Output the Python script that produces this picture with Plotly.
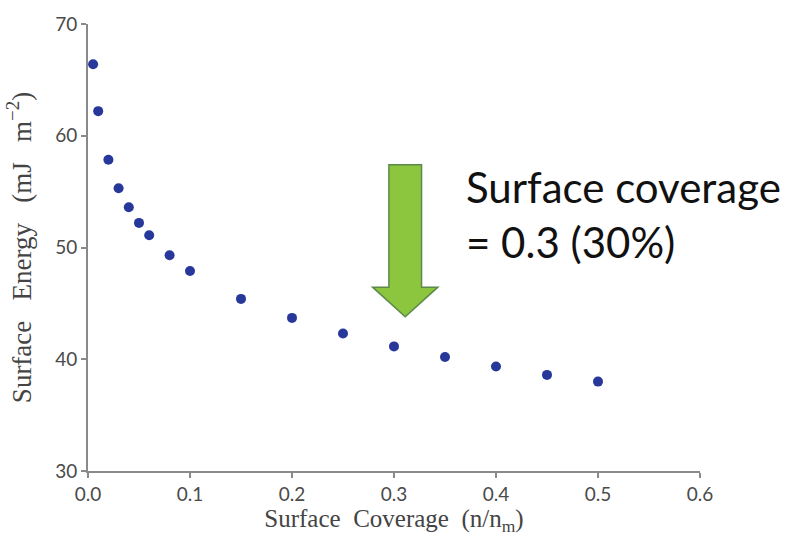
import plotly.graph_objects as go

# Surface energy vs. fractional surface coverage
coverage = [0.005, 0.01, 0.02, 0.03, 0.04, 0.05, 0.06, 0.08, 0.10,
            0.15, 0.20, 0.25, 0.30, 0.35, 0.40, 0.45, 0.50]
surface_energy = [66.4, 62.2, 57.85, 55.3, 53.6, 52.2, 51.1, 49.3, 47.9,
                  45.4, 43.7, 42.3, 41.15, 40.2, 39.35, 38.6, 38.0]

x_ticks = [0.0, 0.1, 0.2, 0.3, 0.4, 0.5, 0.6]
x_tick_text = ["0.0", "0.1", "0.2", "0.3", "0.4", "0.5", "0.6"]
y_ticks = [30, 40, 50, 60, 70]

highlight_x = 0.3
note_lines = ["Surface coverage", "= 0.3 (30%)"]

fig = go.Figure()
fig.add_trace(go.Scatter(
    x=coverage, y=surface_energy, mode="markers",
    marker=dict(color="#27389a", size=10, line=dict(width=0)),
    showlegend=False, hoverinfo="x+y",
))

# Block arrow pointing down at the highlighted coverage
cx = highlight_x + 0.011
half_shaft, half_head = 0.016, 0.032
y_top, y_neck, y_tip = 57.4, 46.45, 43.8
arrow_path = (
    f"M {cx-half_shaft},{y_top} L {cx+half_shaft},{y_top} "
    f"L {cx+half_shaft},{y_neck} L {cx+half_head},{y_neck} "
    f"L {cx},{y_tip} L {cx-half_head},{y_neck} "
    f"L {cx-half_shaft},{y_neck} Z"
)
fig.add_shape(type="path", path=arrow_path, xref="x", yref="y",
              fillcolor="#8cc63e", line=dict(color="#5b8a4a", width=1.5))

note_font = dict(family="Lato", size=42, color="#111111")
fig.add_annotation(
    x=0.369, y=55.4, xref="x", yref="y", xanchor="left", yanchor="middle",
    text=note_lines[0], showarrow=False, font=note_font,
)
fig.add_annotation(
    x=0.369, y=50.5, xref="x", yref="y", xanchor="left", yanchor="middle",
    text=note_lines[1], showarrow=False, font=note_font,
)

axis_common = dict(
    showgrid=False, zeroline=False, showline=True,
    linecolor="#8a8a8a", linewidth=2,
    ticks="outside", ticklen=5, tickwidth=2, tickcolor="#8a8a8a",
    tickfont=dict(family="Lato", size=19, color="#4a4a4a"),
    mirror=False,
)
fig.update_xaxes(
    range=[0, 0.6], tickvals=x_ticks, ticktext=x_tick_text,
    title=dict(text="Surface  Coverage  (n/n<sub>m</sub>)",
               font=dict(family="Liberation Serif", size=25, color="#444444"),
               standoff=4),
    **axis_common,
)
fig.update_yaxes(
    range=[30, 70], tickvals=y_ticks,
    title=dict(text="Surface   Energy   (mJ   m<sup>−2</sup>)",
               font=dict(family="Liberation Serif", size=27, color="#444444"),
               standoff=16),
    **axis_common,
)

fig.update_layout(
    width=789, height=538,
    margin=dict(l=88, r=89, t=22, b=66),
    paper_bgcolor="white", plot_bgcolor="white",
)

fig.write_html("out.html")
